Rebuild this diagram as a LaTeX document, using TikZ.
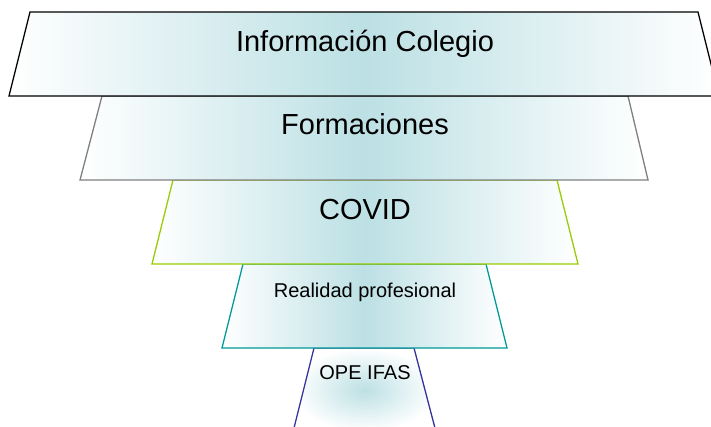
\documentclass[tikz,border=0pt]{standalone}
\usepackage{fontspec}
\setmainfont{Liberation Sans}
\usepackage{tikz}
\usepackage{xcolor}
\usetikzlibrary{positioning}

\definecolor{funnelmid}{RGB}{188,224,228}
\definecolor{levelgray}{RGB}{128,128,128}
\definecolor{levelgreen}{RGB}{153,204,0}
\definecolor{levelteal}{RGB}{0,153,153}
\definecolor{levelnavy}{RGB}{51,51,153}

\begin{document}
\begin{tikzpicture}[x=1pt, y=-1pt, line join=miter,
    level/.style={line width=1.3pt, left color=white, right color=white, middle color=funnelmid},
    lastlevel/.style={line width=1.3pt, inner color=funnelmid, outer color=white},
    bigtext/.style={anchor=base, font=\fontsize{29}{34}\selectfont},
    smalltext/.style={anchor=base, font=\fontsize{20}{24}\selectfont}]

            \useasboundingbox (0,0) rectangle (711,427);
            \clip (0,0) rectangle (711,427);

            % from the bottom up, so each upper edge lies on top
            \draw[lastlevel, draw=levelnavy] (314,348) -- (414,348) -- (436,432) -- (293,432) -- cycle;
            \draw[level, draw=levelteal] (243,264) -- (486,264) -- (507,348) -- (222,348) -- cycle;
            \draw[level, draw=levelgreen] (173,180) -- (557,180) -- (578,264) -- (152,264) -- cycle;
            \draw[level, draw=levelgray] (102,96) -- (628,96) -- (648,180) -- (80,180) -- cycle;
            \draw[level, draw=black] (30,12) -- (698,12) -- (719,96) -- (9,96) -- cycle;

            \node[bigtext] (info) at (365,52) {Información Colegio};
            \node[bigtext] (formaciones) at (365,135) {Formaciones};
            \node[bigtext] (covid) at (365,220) {COVID};
            \node[smalltext] (realidad) at (365,298) {Realidad profesional};
            \node[smalltext] (ope) at (365,379) {OPE IFAS};

        \end{tikzpicture}
\end{document}
